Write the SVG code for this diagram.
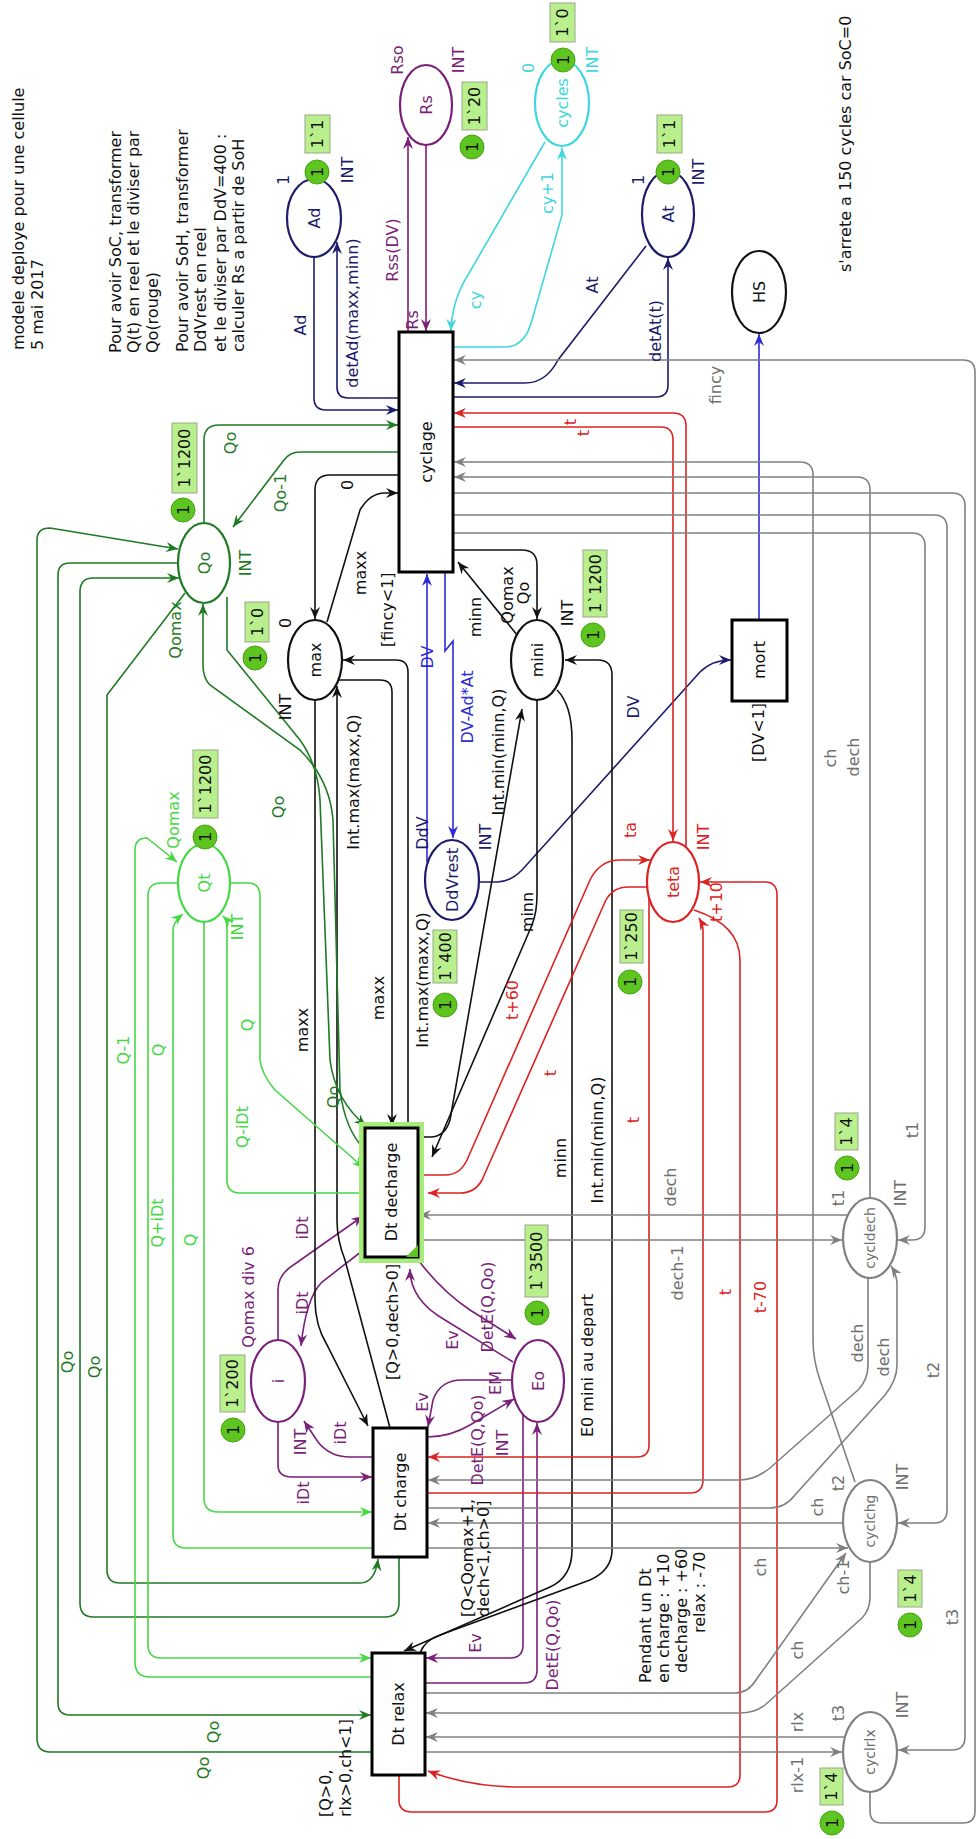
<svg xmlns="http://www.w3.org/2000/svg" width="978" height="1839" viewBox="0 0 978 1839">
<style>
text{font-family:"DejaVu Sans",Verdana,sans-serif;font-size:16px;text-anchor:middle;dominant-baseline:central;fill:#111}
text.s{text-anchor:start}
.arc{fill:none;stroke-width:1.6}
.place{fill:#fff;stroke-width:2.2}
.tr{fill:#fff;stroke:#000;stroke-width:3}
.tok{fill:#5ec41f;stroke:#47a312;stroke-width:1}
.box{fill:#b9ef8c;stroke:#9aa88a;stroke-width:1}
.navy{stroke:#1c1c6b}.blue{stroke:#2b2bd6}.purple{stroke:#7a1f7a}.cyan{stroke:#3fd6e0}.black{stroke:#111}.dgreen{stroke:#1f7a24}.lgreen{stroke:#45d845}.red{stroke:#dd2222}.gray{stroke:#808080}
text.cn{fill:#1c1c6b}text.cb{fill:#2b2bd6}text.cp{fill:#7a1f7a}text.cc{fill:#3fd6e0}text.cd{fill:#1f7a24}text.cl{fill:#45d845}text.cr{fill:#dd2222}text.cg{fill:#707070}
</style>
<defs>
<marker id="mNavy" markerUnits="userSpaceOnUse" markerWidth="13" markerHeight="10" refX="12" refY="5" orient="auto"><path d="M0,0 L12,5 L0,10 L4,5 Z" fill="#1c1c6b"/></marker>
<marker id="mBlue" markerUnits="userSpaceOnUse" markerWidth="13" markerHeight="10" refX="12" refY="5" orient="auto"><path d="M0,0 L12,5 L0,10 L4,5 Z" fill="#2b2bd6"/></marker>
<marker id="mPurple" markerUnits="userSpaceOnUse" markerWidth="13" markerHeight="10" refX="12" refY="5" orient="auto"><path d="M0,0 L12,5 L0,10 L4,5 Z" fill="#7a1f7a"/></marker>
<marker id="mCyan" markerUnits="userSpaceOnUse" markerWidth="13" markerHeight="10" refX="12" refY="5" orient="auto"><path d="M0,0 L12,5 L0,10 L4,5 Z" fill="#3fd6e0"/></marker>
<marker id="mBlack" markerUnits="userSpaceOnUse" markerWidth="13" markerHeight="10" refX="12" refY="5" orient="auto"><path d="M0,0 L12,5 L0,10 L4,5 Z" fill="#111"/></marker>
<marker id="mDgreen" markerUnits="userSpaceOnUse" markerWidth="13" markerHeight="10" refX="12" refY="5" orient="auto"><path d="M0,0 L12,5 L0,10 L4,5 Z" fill="#1f7a24"/></marker>
<marker id="mLgreen" markerUnits="userSpaceOnUse" markerWidth="13" markerHeight="10" refX="12" refY="5" orient="auto"><path d="M0,0 L12,5 L0,10 L4,5 Z" fill="#45d845"/></marker>
<marker id="mRed" markerUnits="userSpaceOnUse" markerWidth="13" markerHeight="10" refX="12" refY="5" orient="auto"><path d="M0,0 L12,5 L0,10 L4,5 Z" fill="#dd2222"/></marker>
<marker id="mGray" markerUnits="userSpaceOnUse" markerWidth="13" markerHeight="10" refX="12" refY="5" orient="auto"><path d="M0,0 L12,5 L0,10 L4,5 Z" fill="#808080"/></marker>
</defs>
<rect width="978" height="1839" fill="#fff"/>

<g id="connectors">
<g>
<path class="arc navy" marker-end="url(#mNavy)" d="M314,257 V398 Q314,410 326,410 H398"/>
<path class="arc navy" marker-end="url(#mNavy)" d="M399,398 H348 Q337,398 337,387 V242"/>
<path class="arc navy" marker-end="url(#mNavy)" d="M646,246 L558,360 Q546,383 525,383 H454"/>
<path class="arc navy" marker-end="url(#mNavy)" d="M453,397 H656 Q668,397 668,385 V258"/>
<path class="arc navy" marker-end="url(#mNavy)" d="M478,882 H497 Q510,882 522,870 L700,672 Q712,660 731,660"/>
</g>
<g>
<path class="arc blue" marker-end="url(#mBlue)" d="M427,862 V574"/>
<path class="arc blue" marker-end="url(#mBlue)" d="M445,572 V651 L453,641 V838"/>
<path class="arc blue" marker-end="url(#mBlue)" d="M759,620 V334"/>
</g>
<g>
<path class="arc purple" marker-end="url(#mPurple)" d="M408,332 V137"/>
<path class="arc purple" marker-end="url(#mPurple)" d="M426,145 V331"/>
<path class="arc purple" marker-end="url(#mPurple)" d="M278,1341 V1290 Q278,1275 292,1266 L363,1216"/>
<path class="arc purple" marker-end="url(#mPurple)" d="M366,1248 L322,1282 Q306,1298 301,1346"/>
<path class="arc purple" marker-end="url(#mPurple)" d="M373,1457 H350 Q330,1457 318,1442 L304,1421"/>
<path class="arc purple" marker-end="url(#mPurple)" d="M278,1422 V1465 Q278,1477 292,1477 H372"/>
<path class="arc purple" marker-end="url(#mPurple)" d="M416,1257 Q440,1290 470,1310 L516,1339"/>
<path class="arc purple" marker-end="url(#mPurple)" d="M513,1362 L445,1320 Q410,1300 410,1269"/>
<path class="arc purple" marker-end="url(#mPurple)" d="M512,1380 H462 Q440,1380 433,1400 L428,1427"/>
<path class="arc purple" marker-end="url(#mPurple)" d="M427,1437 Q450,1437 470,1425 L514,1399"/>
<path class="arc purple" marker-end="url(#mPurple)" d="M523,1414 V1645 Q523,1658 510,1658 H426"/>
<path class="arc purple" marker-end="url(#mPurple)" d="M425,1683 H524 Q537,1683 537,1670 V1423"/>
</g>
<g>
<path class="arc cyan" marker-end="url(#mCyan)" d="M545,142 L468,275 Q452,300 451,331"/>
<path class="arc cyan" marker-end="url(#mCyan)" d="M453,347 H505 Q525,347 532,320 L562,215 V148"/>
</g>
<g>
<path class="arc black" marker-end="url(#mBlack)" d="M399,475 H330 Q315,475 315,490 V619"/>
<path class="arc black" marker-end="url(#mBlack)" d="M327,622 L360,510 Q370,493 385,493 H398"/>
<path class="arc black" marker-end="url(#mBlack)" d="M453,550 H522 Q537,550 537,565 V619"/>
<path class="arc black" marker-end="url(#mBlack)" d="M518,636 L458,562"/>
<path class="arc black" marker-end="url(#mBlack)" d="M315,700 V1300 Q315,1325 327,1345 L368,1426"/>
<path class="arc black" marker-end="url(#mBlack)" d="M390,1428 L345,1260 Q337,1240 337,1220 V686"/>
<path class="arc black" marker-end="url(#mBlack)" d="M408,1127 V672 Q408,660 396,660 H343"/>
<path class="arc black" marker-end="url(#mBlack)" d="M339,680 H380 Q392,680 392,692 V1126"/>
<path class="arc black" marker-end="url(#mBlack)" d="M418,1137 H430 Q445,1137 450,1120 L522,709"/>
<path class="arc black" marker-end="url(#mBlack)" d="M537,700 V895 Q537,912 532,925 L432,1157"/>
<path class="arc black" marker-end="url(#mBlack)" d="M557,690 Q572,705 572,740 V1550 Q572,1577 550,1587 L404,1651"/>
<path class="arc black" marker-end="url(#mBlack)" d="M420,1653 Q425,1640 440,1635 L590,1580 Q612,1570 612,1550 V675 Q612,660 598,660 H565"/>
</g>
<g>
<path class="arc dgreen" marker-end="url(#mDgreen)" d="M204,523 V440 Q204,425 219,425 H398"/>
<path class="arc dgreen" marker-end="url(#mDgreen)" d="M399,452 H300 Q290,452 284,460 L233,527"/>
<path class="arc dgreen" marker-end="url(#mDgreen)" d="M372,1752 H50 Q37,1752 37,1738 V540 Q37,528 50,528 L178,549"/>
<path class="arc dgreen" marker-end="url(#mDgreen)" d="M178,563 H70 Q58,563 58,575 V1703 Q58,1715 70,1715 H371"/>
<path class="arc dgreen" marker-end="url(#mDgreen)" d="M399,1557 V1603 Q399,1617 385,1617 H93 Q80,1617 80,1603 V592 Q80,578 93,578 H179"/>
<path class="arc dgreen" marker-end="url(#mDgreen)" d="M185,593 L107,695 V1570 Q107,1583 120,1583 H360 Q375,1583 378,1559"/>
<path class="arc dgreen" marker-end="url(#mDgreen)" d="M227,597 V650 L300,740 Q318,765 320,800 L330,1060 Q335,1100 366,1126"/>
<path class="arc dgreen" marker-end="url(#mDgreen)" d="M365,1150 Q345,1130 340,1090 L333,820 Q330,780 300,750 L210,685 Q203,678 203,665 V604"/>
</g>
<g>
<path class="arc lgreen" marker-end="url(#mLgreen)" d="M372,1677 H150 Q135,1677 135,1662 V850 Q135,838 147,838 L177,862"/>
<path class="arc lgreen" marker-end="url(#mLgreen)" d="M178,883 H161 Q148,883 148,896 V1645 Q148,1658 161,1658 H371"/>
<path class="arc lgreen" marker-end="url(#mLgreen)" d="M373,1548 H186 Q173,1548 173,1535 V930 Q173,922 183,914"/>
<path class="arc lgreen" marker-end="url(#mLgreen)" d="M204,921 V1498 Q204,1512 218,1512 H372"/>
<path class="arc lgreen" marker-end="url(#mLgreen)" d="M365,1193 H240 Q227,1193 227,1180 V928 Q227,920 223,916"/>
<path class="arc lgreen" marker-end="url(#mLgreen)" d="M230,883 H248 Q260,883 260,896 V1060 Q262,1075 275,1090 L364,1168"/>
</g>
<g>
<path class="arc red" marker-end="url(#mRed)" d="M686,847 V426 Q686,413 673,413 H454"/>
<path class="arc red" marker-end="url(#mRed)" d="M453,427 H661 Q673,427 673,440 V841"/>
<path class="arc red" marker-end="url(#mRed)" d="M418,1175 H445 Q460,1175 467,1160 L590,880 Q600,860 620,860 H650"/>
<path class="arc red" marker-end="url(#mRed)" d="M648,887 H628 Q612,887 605,902 L482,1180 Q475,1193 460,1193 H428"/>
<path class="arc red" marker-end="url(#mRed)" d="M649,895 V1445 Q649,1457 637,1457 H428"/>
<path class="arc red" marker-end="url(#mRed)" d="M427,1493 H690 Q703,1493 703,1480 V930 Q703,925 699,918"/>
<path class="arc red" marker-end="url(#mRed)" d="M694,910 Q740,925 740,960 V1775 Q740,1787 728,1787 H520 Q470,1787 428,1771"/>
<path class="arc red" marker-end="url(#mRed)" d="M399,1775 V1800 Q399,1812 412,1812 H765 Q777,1812 777,1800 V895 Q777,882 765,882 H700"/>
</g>
<g>
<path class="arc gray" marker-end="url(#mGray)" d="M870,1792 V1811 Q870,1823 882,1823 H963 Q975,1823 975,1811 V372 Q975,360 963,360 H454"/>
<path class="arc gray" marker-end="url(#mGray)" d="M855,1482 L820,1380 Q813,1360 813,1340 V475 Q813,462 800,462 H454"/>
<path class="arc gray" marker-end="url(#mGray)" d="M870,1198 V490 Q870,477 857,477 H454"/>
<path class="arc gray" marker-end="url(#mGray)" d="M453,493 H952 Q965,493 965,506 V1737 Q965,1750 952,1750 H898"/>
<path class="arc gray" marker-end="url(#mGray)" d="M453,515 H934 Q947,515 947,528 V1510 Q947,1523 934,1523 H898"/>
<path class="arc gray" marker-end="url(#mGray)" d="M453,533 H912 Q925,533 925,546 V1227 Q925,1240 912,1240 H898"/>
<path class="arc gray" marker-end="url(#mGray)" d="M847,1215 H419"/>
<path class="arc gray" marker-end="url(#mGray)" d="M418,1240 H842"/>
<path class="arc gray" marker-end="url(#mGray)" d="M868,1278 V1365 Q868,1380 858,1390 L770,1468 Q755,1480 740,1480 H428"/>
<path class="arc gray" marker-end="url(#mGray)" d="M427,1508 H770 Q785,1508 795,1495 L885,1395 Q897,1380 897,1365 V1285 Q897,1275 891,1266"/>
<path class="arc gray" marker-end="url(#mGray)" d="M844,1523 H428"/>
<path class="arc gray" marker-end="url(#mGray)" d="M427,1548 H848"/>
<path class="arc gray" marker-end="url(#mGray)" d="M425,1693 H735 Q748,1693 756,1680 L846,1553"/>
<path class="arc gray" marker-end="url(#mGray)" d="M870,1563 V1597 Q870,1610 862,1618 L765,1705 Q755,1713 740,1713 H426"/>
<path class="arc gray" marker-end="url(#mGray)" d="M845,1737 H426"/>
<path class="arc gray" marker-end="url(#mGray)" d="M425,1752 H842"/>
</g>
</g>

<g id="labels">
<text class="s" transform="translate(18 350) rotate(-90)">modele deploye pour une cellule</text>
<text class="s" transform="translate(37 350) rotate(-90)">5 mai 2017</text>
<text class="s" transform="translate(115 353) rotate(-90)">Pour avoir SoC, transformer</text>
<text class="s" transform="translate(133 353) rotate(-90)">Q(t) en reel et le diviser par</text>
<text class="s" transform="translate(152 353) rotate(-90)">Qo(rouge)</text>
<text class="s" transform="translate(182 352) rotate(-90)">Pour avoir SoH, transformer</text>
<text class="s" transform="translate(200 352) rotate(-90)">DdVrest en reel</text>
<text class="s" transform="translate(220 352) rotate(-90)">et le diviser par DdV=400 :</text>
<text class="s" transform="translate(238 352) rotate(-90)">calculer Rs a partir de SoH</text>
<text class="s" transform="translate(845 272) rotate(-90)">s'arrete a 150 cycles car SoC=0</text>
<text class="s" transform="translate(645 1683) rotate(-90)">Pendant un Dt</text>
<text class="s" transform="translate(663 1683) rotate(-90)">en charge : +10</text>
<text class="s" transform="translate(681 1673) rotate(-90)">decharge : +60</text>
<text class="s" transform="translate(699 1633) rotate(-90)">relax : -70</text>
<text class="s" transform="translate(587 1437) rotate(-90)">E0 mini au depart</text>
<text class="s" transform="translate(387 647) rotate(-90)">[fincy&lt;1]</text>
<text class="s" transform="translate(758 762) rotate(-90)">[DV&lt;1]</text>
<text class="s" transform="translate(392 1380) rotate(-90)">[Q&gt;0,dech&gt;0]</text>
<text class="s" transform="translate(467 1617) rotate(-90)">[Q&lt;Qomax+1,</text>
<text class="s" transform="translate(483 1617) rotate(-90)">dech&lt;1,ch&gt;0]</text>
<text class="s" transform="translate(325 1817) rotate(-90)">[Q&gt;0,</text>
<text class="s" transform="translate(345 1817) rotate(-90)">rlx&gt;0,ch&lt;1]</text>

<text class="cn" transform="translate(300 325) rotate(-90)">Ad</text>
<text class="cn" transform="translate(352 313) rotate(-90)">detAd(maxx,minn)</text>
<text class="cn" transform="translate(592 285) rotate(-90)">At</text>
<text class="cn" transform="translate(655 331) rotate(-90)">detAt(t)</text>
<text class="cn" transform="translate(633 707) rotate(-90)">DV</text>
<text class="cn" transform="translate(283 180) rotate(-90)">1</text>
<text class="cn" transform="translate(347 170) rotate(-90)">INT</text>
<text class="cn" transform="translate(638 180) rotate(-90)">1</text>
<text class="cn" transform="translate(698 172) rotate(-90)">INT</text>
<text class="cn" transform="translate(422 833) rotate(-90)">DdV</text>
<text class="cn" transform="translate(485 837) rotate(-90)">INT</text>
<text class="cb" transform="translate(427 657) rotate(-90)">DV</text>
<text class="cb" transform="translate(467 707) rotate(-90)">DV-Ad*At</text>

<text class="cp" transform="translate(397 60) rotate(-90)">Rso</text>
<text class="cp" transform="translate(458 60) rotate(-90)">INT</text>
<text class="cp" transform="translate(392 250) rotate(-90)">Rss(DV)</text>
<text class="cp" transform="translate(412 320) rotate(-90)">Rs</text>
<text class="cp" transform="translate(248 1297) rotate(-90)">Qomax div 6</text>
<text class="cp" transform="translate(300 1442) rotate(-90)">INT</text>
<text class="cp" transform="translate(302 1228) rotate(-90)">iDt</text>
<text class="cp" transform="translate(302 1303) rotate(-90)">iDt</text>
<text class="cp" transform="translate(340 1433) rotate(-90)">iDt</text>
<text class="cp" transform="translate(303 1493) rotate(-90)">iDt</text>
<text class="cp" transform="translate(487 1307) rotate(-90)">DetE(Q,Qo)</text>
<text class="cp" transform="translate(452 1340) rotate(-90)">Ev</text>
<text class="cp" transform="translate(495 1383) rotate(-90)">EM</text>
<text class="cp" transform="translate(422 1402) rotate(-90)">Ev</text>
<text class="cp" transform="translate(477 1440) rotate(-90)">DetE(Q,Qo)</text>
<text class="cp" transform="translate(502 1443) rotate(-90)">INT</text>
<text class="cp" transform="translate(475 1643) rotate(-90)">Ev</text>
<text class="cp" transform="translate(552 1645) rotate(-90)">DetE(Q,Qo)</text>

<text class="cc" transform="translate(528 68) rotate(-90)">0</text>
<text class="cc" transform="translate(592 60) rotate(-90)">INT</text>
<text class="cc" transform="translate(475 300) rotate(-90)">cy</text>
<text class="cc" transform="translate(547 193) rotate(-90)">cy+1</text>

<text transform="translate(285 623) rotate(-90)">0</text>
<text transform="translate(285 707) rotate(-90)">INT</text>
<text transform="translate(347 485) rotate(-90)">0</text>
<text transform="translate(360 573) rotate(-90)">maxx</text>
<text transform="translate(475 617) rotate(-90)">minn</text>
<text transform="translate(507 595) rotate(-90)">Qomax</text>
<text transform="translate(523 593) rotate(-90)">Qo</text>
<text transform="translate(567 613) rotate(-90)">INT</text>
<text transform="translate(353 782) rotate(-90)">Int.max(maxx,Q)</text>
<text transform="translate(422 980) rotate(-90)">Int.max(maxx,Q)</text>
<text transform="translate(302 1030) rotate(-90)">maxx</text>
<text transform="translate(378 998) rotate(-90)">maxx</text>
<text transform="translate(498 752) rotate(-90)">Int.min(minn,Q)</text>
<text transform="translate(527 912) rotate(-90)">minn</text>
<text transform="translate(560 1158) rotate(-90)">minn</text>
<text transform="translate(597 1140) rotate(-90)">Int.min(minn,Q)</text>

<text class="cd" transform="translate(230 443) rotate(-90)">Qo</text>
<text class="cd" transform="translate(280 493) rotate(-90)">Qo-1</text>
<text class="cd" transform="translate(245 563) rotate(-90)">INT</text>
<text class="cd" transform="translate(175 630) rotate(-90)">Qomax</text>
<text class="cd" transform="translate(278 807) rotate(-90)">Qo</text>
<text class="cd" transform="translate(333 1097) rotate(-90)">Qo</text>
<text class="cd" transform="translate(67 1362) rotate(-90)">Qo</text>
<text class="cd" transform="translate(94 1367) rotate(-90)">Qo</text>
<text class="cd" transform="translate(213 1732) rotate(-90)">Qo</text>
<text class="cd" transform="translate(203 1768) rotate(-90)">Qo</text>

<text class="cl" transform="translate(173 820) rotate(-90)">Qomax</text>
<text class="cl" transform="translate(237 927) rotate(-90)">INT</text>
<text class="cl" transform="translate(123 1050) rotate(-90)">Q-1</text>
<text class="cl" transform="translate(158 1050) rotate(-90)">Q</text>
<text class="cl" transform="translate(157 1223) rotate(-90)">Q+iDt</text>
<text class="cl" transform="translate(190 1240) rotate(-90)">Q</text>
<text class="cl" transform="translate(242 1127) rotate(-90)">Q-iDt</text>
<text class="cl" transform="translate(247 1025) rotate(-90)">Q</text>

<text class="cr" transform="translate(570 422) rotate(-90)">t</text>
<text class="cr" transform="translate(583 433) rotate(-90)">t</text>
<text class="cr" transform="translate(630 830) rotate(-90)">ta</text>
<text class="cr" transform="translate(703 837) rotate(-90)">INT</text>
<text class="cr" transform="translate(512 1000) rotate(-90)">t+60</text>
<text class="cr" transform="translate(550 1073) rotate(-90)">t</text>
<text class="cr" transform="translate(633 1120) rotate(-90)">t</text>
<text class="cr" transform="translate(716 902) rotate(-90)">t+10</text>
<text class="cr" transform="translate(725 1292) rotate(-90)">t</text>
<text class="cr" transform="translate(760 1297) rotate(-90)">t-70</text>

<text class="cg" transform="translate(715 385) rotate(-90)">fincy</text>
<text class="cg" transform="translate(830 758) rotate(-90)">ch</text>
<text class="cg" transform="translate(853 757) rotate(-90)">dech</text>
<text class="cg" transform="translate(912 1130) rotate(-90)">t1</text>
<text class="cg" transform="translate(933 1370) rotate(-90)">t2</text>
<text class="cg" transform="translate(952 1617) rotate(-90)">t3</text>
<text class="cg" transform="translate(670 1187) rotate(-90)">dech</text>
<text class="cg" transform="translate(677 1273) rotate(-90)">dech-1</text>
<text class="cg" transform="translate(857 1343) rotate(-90)">dech</text>
<text class="cg" transform="translate(883 1357) rotate(-90)">dech</text>
<text class="cg" transform="translate(817 1507) rotate(-90)">ch</text>
<text class="cg" transform="translate(843 1577) rotate(-90)">ch-1</text>
<text class="cg" transform="translate(760 1567) rotate(-90)">ch</text>
<text class="cg" transform="translate(797 1650) rotate(-90)">ch</text>
<text class="cg" transform="translate(797 1722) rotate(-90)">rlx</text>
<text class="cg" transform="translate(797 1775) rotate(-90)">rlx-1</text>
<text class="cg" transform="translate(838 1198) rotate(-90)">t1</text>
<text class="cg" transform="translate(838 1483) rotate(-90)">t2</text>
<text class="cg" transform="translate(838 1713) rotate(-90)">t3</text>
<text class="cg" transform="translate(900 1193) rotate(-90)">INT</text>
<text class="cg" transform="translate(902 1477) rotate(-90)">INT</text>
<text class="cg" transform="translate(902 1705) rotate(-90)">INT</text>
</g>

<g id="Ad"><ellipse class="place navy" cx="314" cy="218" rx="27" ry="39"/><text class="cn" transform="translate(314 218) rotate(-90)">Ad</text>
<circle class="tok" cx="317" cy="172" r="12"/><text transform="translate(317 172) rotate(-90)">1</text><rect class="box" x="305" y="115" width="25" height="38"/><text transform="translate(317.5 134) rotate(-90)">1`1</text></g>
<g id="Rs"><ellipse class="place purple" cx="426" cy="105" rx="26" ry="40"/><text class="cp" transform="translate(426 105) rotate(-90)">Rs</text>
<circle class="tok" cx="472" cy="147" r="12"/><text transform="translate(472 147) rotate(-90)">1</text><rect class="box" x="462" y="82" width="25" height="48"/><text transform="translate(474.5 106) rotate(-90)">1`20</text></g>
<g id="cycles"><ellipse class="place cyan" cx="562" cy="103" rx="27" ry="43"/><text class="cc" transform="translate(562 103) rotate(-90)">cycles</text>
<circle class="tok" cx="563" cy="60" r="12"/><text transform="translate(563 60) rotate(-90)">1</text><rect class="box" x="550" y="3" width="25" height="39"/><text transform="translate(562.5 22.5) rotate(-90)">1`0</text></g>
<g id="At"><ellipse class="place navy" cx="668" cy="214" rx="26" ry="43"/><text class="cn" transform="translate(668 214) rotate(-90)">At</text>
<circle class="tok" cx="668" cy="172" r="12"/><text transform="translate(668 172) rotate(-90)">1</text><rect class="box" x="657" y="115" width="25" height="38"/><text transform="translate(669.5 134) rotate(-90)">1`1</text></g>
<g id="HS"><ellipse class="place black" cx="759" cy="292" rx="27" ry="41"/><text transform="translate(759 292) rotate(-90)">HS</text></g>
<g id="cyclage"><rect class="tr" x="399" y="332" width="54" height="240"/><text transform="translate(426 452) rotate(-90)">cyclage</text></g>
<g id="mort"><rect class="tr" x="732" y="620" width="55" height="81"/><text transform="translate(759.5 660) rotate(-90)">mort</text></g>
<g id="Qo"><ellipse class="place dgreen" cx="204" cy="563" rx="26" ry="40"/><text class="cd" transform="translate(204 563) rotate(-90)">Qo</text>
<circle class="tok" cx="183" cy="510" r="12"/><text transform="translate(183 510) rotate(-90)">1</text><rect class="box" x="172" y="423" width="25" height="70"/><text transform="translate(184.5 458) rotate(-90)">1`1200</text></g>
<g id="max"><ellipse class="place black" cx="315" cy="660" rx="27" ry="40"/><text transform="translate(315 660) rotate(-90)">max</text>
<circle class="tok" cx="255" cy="658" r="12"/><text transform="translate(255 658) rotate(-90)">1</text><rect class="box" x="245" y="602" width="24" height="40"/><text transform="translate(257 622) rotate(-90)">1`0</text></g>
<g id="mini"><ellipse class="place black" cx="537" cy="660" rx="26" ry="40"/><text transform="translate(537 660) rotate(-90)">mini</text>
<circle class="tok" cx="593" cy="635" r="12"/><text transform="translate(593 635) rotate(-90)">1</text><rect class="box" x="583" y="550" width="24" height="67"/><text transform="translate(595 583.5) rotate(-90)">1`1200</text></g>
<g id="Qt"><ellipse class="place lgreen" cx="204" cy="883" rx="26" ry="39"/><text class="cl" transform="translate(204 883) rotate(-90)">Qt</text>
<circle class="tok" cx="205" cy="837" r="12"/><text transform="translate(205 837) rotate(-90)">1</text><rect class="box" x="193" y="750" width="25" height="68"/><text transform="translate(205.5 784) rotate(-90)">1`1200</text></g>
<g id="DdVrest"><ellipse class="place navy" cx="452" cy="880" rx="27" ry="40"/><text class="cn" transform="translate(452 880) rotate(-90)">DdVrest</text>
<circle class="tok" cx="445" cy="1005" r="12"/><text transform="translate(445 1005) rotate(-90)">1</text><rect class="box" x="433" y="930" width="24" height="53"/><text transform="translate(445 956.5) rotate(-90)">1`400</text></g>
<g id="teta"><ellipse class="place red" cx="673" cy="882" rx="26" ry="40"/><text class="cr" transform="translate(673 882) rotate(-90)">teta</text>
<circle class="tok" cx="630" cy="982" r="12"/><text transform="translate(630 982) rotate(-90)">1</text><rect class="box" x="620" y="910" width="23" height="53"/><text transform="translate(631.5 936.5) rotate(-90)">1`250</text></g>
<g id="Dt-decharge"><rect x="362" y="1125" width="59" height="135" fill="none" stroke="#a6ec7a" stroke-width="6"/><rect class="tr" x="365" y="1128" width="53" height="129"/><path d="M418,1245 L418,1257 L406,1257 Z" fill="#5ec41f"/><text transform="translate(391.5 1192) rotate(-90)">Dt decharge</text></g>
<g id="i"><ellipse class="place purple" cx="278" cy="1381" rx="27" ry="41"/><text class="cp" transform="translate(278 1381) rotate(-90)">i</text>
<circle class="tok" cx="233" cy="1430" r="12"/><text transform="translate(233 1430) rotate(-90)">1</text><rect class="box" x="220" y="1355" width="25" height="57"/><text transform="translate(232.5 1383.5) rotate(-90)">1`200</text></g>
<g id="Eo"><ellipse class="place purple" cx="538" cy="1381" rx="26" ry="41"/><text class="cp" transform="translate(538 1381) rotate(-90)">Eo</text>
<circle class="tok" cx="537" cy="1313" r="12"/><text transform="translate(537 1313) rotate(-90)">1</text><rect class="box" x="525" y="1225" width="23" height="72"/><text transform="translate(536.5 1261) rotate(-90)">1`3500</text></g>
<g id="Dt-charge"><rect class="tr" x="373" y="1428" width="54" height="129"/><text transform="translate(400 1492) rotate(-90)">Dt charge</text></g>
<g id="Dt-relax"><rect class="tr" x="372" y="1653" width="53" height="122"/><text transform="translate(398.5 1714) rotate(-90)">Dt relax</text></g>
<g id="cycldech"><ellipse class="place gray" cx="870" cy="1238" rx="27" ry="40"/><text class="cg" transform="translate(870 1238) rotate(-90)" style="font-size:14px">cycldech</text>
<circle class="tok" cx="847" cy="1168" r="12"/><text transform="translate(847 1168) rotate(-90)">1</text><rect class="box" x="835" y="1113" width="23" height="37"/><text transform="translate(846.5 1131.5) rotate(-90)">1`4</text></g>
<g id="cyclchg"><ellipse class="place gray" cx="870" cy="1521" rx="27" ry="41"/><text class="cg" transform="translate(870 1521) rotate(-90)" style="font-size:14px">cyclchg</text>
<circle class="tok" cx="910" cy="1625" r="12"/><text transform="translate(910 1625) rotate(-90)">1</text><rect class="box" x="898" y="1570" width="24" height="37"/><text transform="translate(910 1588.5) rotate(-90)">1`4</text></g>
<g id="cyclrlx"><ellipse class="place gray" cx="870" cy="1752" rx="27" ry="40"/><text class="cg" transform="translate(870 1752) rotate(-90)" style="font-size:14px">cyclrlx</text>
<circle class="tok" cx="832" cy="1823" r="12"/><text transform="translate(832 1823) rotate(-90)">1</text><rect class="box" x="820" y="1768" width="23" height="37"/><text transform="translate(831.5 1786.5) rotate(-90)">1`4</text></g>
</svg>
